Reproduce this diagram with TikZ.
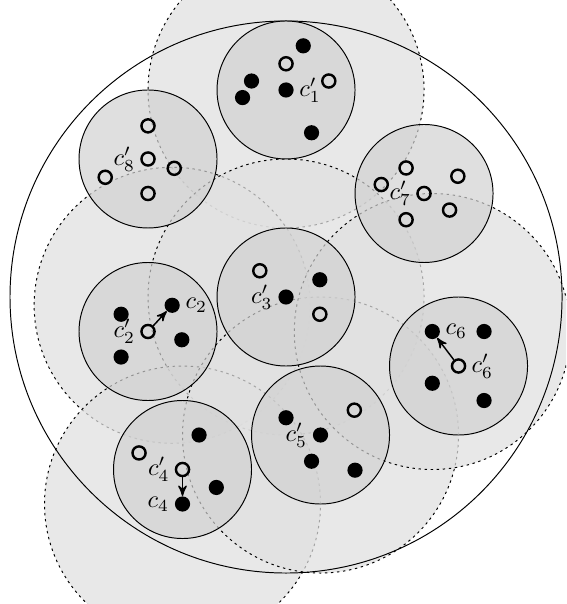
\documentclass[tikz,border=0pt]{standalone}
\usetikzlibrary{arrows,positioning}
\tikzset{
	>=stealth',
}
\begin{document}
\begin{tikzpicture}[
	area/.style = {circle, draw, dash pattern=on 1pt off 1.5pt, fill=black!12, fill opacity=0.73, minimum size=4cm, inner sep=0},
	cluster/.style = {circle, draw, fill=black!18, fill opacity=0.7, minimum size=2cm, inner sep=0},
	fullpt/.style = {circle, fill=black, minimum size=0.22cm, inner sep=0},
	openpt/.style = {circle, draw, line width=1pt, minimum size=0.19cm, inner sep=0},
	lbl/.style = {inner sep=1pt}]
\useasboundingbox (-4.145,-4.449) rectangle (4.058,4.304);
\clip (-4.145,-4.449) rectangle (4.058,4.304);
% dashed regions round the chosen centres
\node[area] (area1) at (0,3) {};
\node[area] (area2) at (-1.65,-0.12) {};
\node[area] (area3) at (0,0) {};
\node[area] (area4) at (-1.5,-3) {};
\node[area] (area5) at (0.5,-2) {};
\node[area] (area6) at (2.12,-0.5) {};
\node[circle, draw, minimum size=8cm, inner sep=0] (outer) at (0,0) {};
% clusters
\node[cluster] (cluster1) at (0,3) {};
\node[cluster] (cluster2) at (-2,-0.5) {};
\node[cluster] (cluster3) at (0,0) {};
\node[cluster] (cluster4) at (-1.5,-2.5) {};
\node[cluster] (cluster5) at (0.5,-2) {};
\node[cluster] (cluster6) at (2.5,-1) {};
\node[cluster] (cluster7) at (2,1.5) {};
\node[cluster] (cluster8) at (-2,2) {};
% cluster 1
\node[fullpt] (p1a) at (0.25,3.64) {};
\node[openpt] (p1b) at (0,3.38) {};
\node[fullpt] (p1c) at (-0.5,3.13) {};
\node[fullpt] (p1d) at (-0.63,2.89) {};
\node[openpt] (p1e) at (0.62,3.13) {};
\node[fullpt] (p1f) at (0.37,2.38) {};
\node[fullpt] (c1p) at (0,3) {};
\node[lbl, right=1pt of c1p] (l1p) {$c'_1$};
% cluster 2
\node[fullpt] (p2a) at (-2.39,-0.25) {};
\node[fullpt] (p2b) at (-1.51,-0.62) {};
\node[fullpt] (p2c) at (-2.39,-0.87) {};
\node[openpt] (c2p) at (-2,-0.5) {};
\node[lbl, left=1pt of c2p] (l2p) {$c'_2$};
\node[fullpt] (c2) at (-1.65,-0.12) {}
	edge[<-, semithick] (c2p);
\node[lbl, right=1pt of c2] (l2) {$c_2$};
% cluster 3
\node[openpt] (p3a) at (-0.38,0.38) {};
\node[fullpt] (p3b) at (0.49,0.25) {};
\node[openpt] (p3c) at (0.49,-0.25) {};
\node[fullpt] (c3p) at (0,0) {};
\node[lbl, left=1pt of c3p] (l3p) {$c'_3$};
% cluster 4
\node[openpt] (p4a) at (-2.13,-2.26) {};
\node[fullpt] (p4b) at (-1.26,-2) {};
\node[fullpt] (p4c) at (-1.01,-2.76) {};
\node[openpt] (c4p) at (-1.5,-2.5) {};
\node[lbl, left=1pt of c4p] (l4p) {$c'_4$};
\node[fullpt] (c4) at (-1.5,-3) {}
	edge[<-, semithick] (c4p);
\node[lbl, left=1pt of c4] (l4) {$c_4$};
% cluster 5
\node[fullpt] (p5a) at (0,-1.75) {};
\node[openpt] (p5b) at (0.99,-1.64) {};
\node[fullpt] (p5c) at (0.37,-2.38) {};
\node[fullpt] (p5d) at (1,-2.51) {};
\node[fullpt] (c5p) at (0.5,-2) {};
\node[lbl, left=1pt of c5p] (l5p) {$c'_5$};
% cluster 6
\node[fullpt] (p6a) at (2.87,-0.5) {};
\node[fullpt] (p6b) at (2.12,-1.25) {};
\node[fullpt] (p6c) at (2.87,-1.5) {};
\node[openpt] (c6p) at (2.5,-1) {};
\node[lbl, right=1pt of c6p] (l6p) {$c'_6$};
\node[fullpt] (c6) at (2.12,-0.5) {}
	edge[<-, semithick] (c6p);
\node[lbl, right=1pt of c6] (l6) {$c_6$};
% cluster 7
\node[openpt] (p7a) at (1.74,1.87) {};
\node[openpt] (p7b) at (1.38,1.63) {};
\node[openpt] (p7c) at (2.49,1.75) {};
\node[openpt] (p7d) at (2.37,1.26) {};
\node[openpt] (p7e) at (1.74,1.12) {};
\node[openpt] (c7p) at (2,1.5) {};
\node[lbl, left=1pt of c7p] (l7p) {$c'_7$};
% cluster 8
\node[openpt] (p8a) at (-2,2.48) {};
\node[openpt] (p8b) at (-1.62,1.865) {};
\node[openpt] (p8c) at (-2.62,1.735) {};
\node[openpt] (p8d) at (-2,1.5) {};
\node[openpt] (c8p) at (-2,2) {};
\node[lbl, left=1pt of c8p] (l8p) {$c'_8$};
\end{tikzpicture}
\end{document}
